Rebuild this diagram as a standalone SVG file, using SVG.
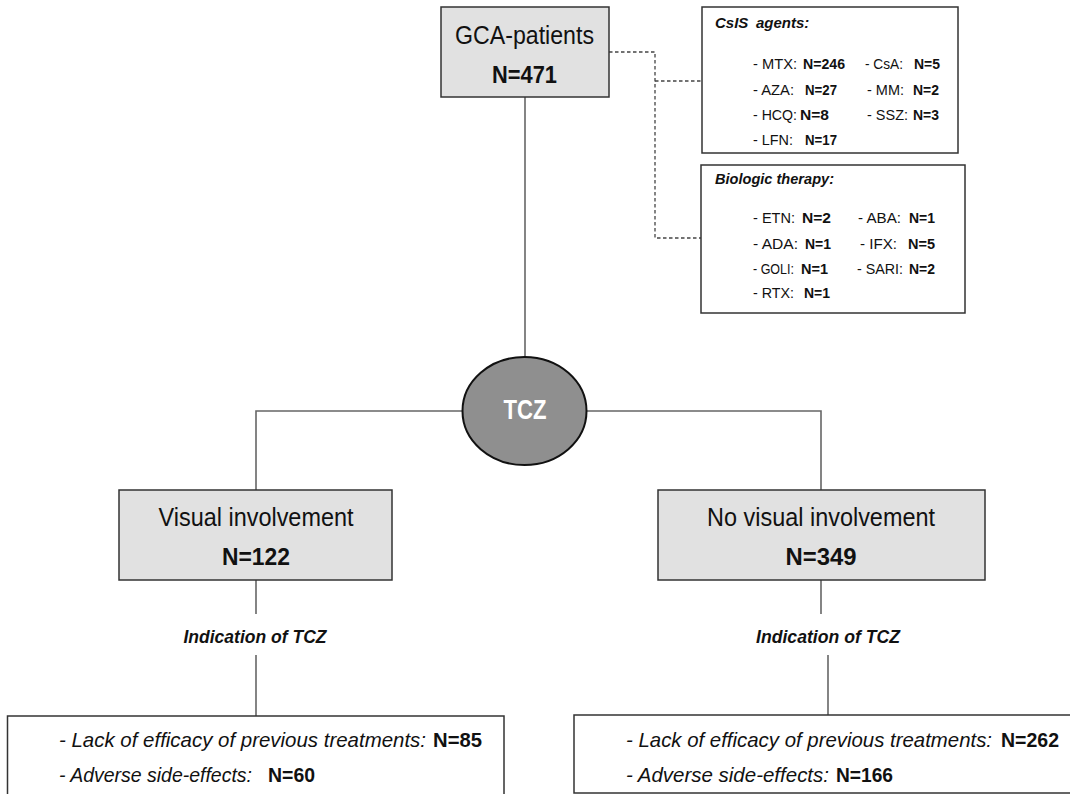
<svg xmlns="http://www.w3.org/2000/svg" width="1070" height="794" viewBox="0 0 1070 794">
<style>
.box{fill:#e1e1e1;stroke:#333;stroke-width:1.5}
.wbox{fill:#fff;stroke:#333;stroke-width:1.5}
.ln{fill:none;stroke:#666;stroke-width:1.6}
.dash{fill:none;stroke:#444;stroke-width:1.3;stroke-dasharray:3.5 2.5}
text{font-family:"Liberation Sans",Arial,sans-serif;fill:#111}
.big{font-size:26px}
.bn{font-size:24px;font-weight:bold}
.ttl{font-size:15px;font-weight:bold;font-style:italic}
.r{font-size:15.5px}
.b{font-size:15.5px;font-weight:bold}
.ind{font-size:18px;font-weight:bold;font-style:italic}
.it{font-size:21px;font-style:italic}
.bb{font-size:20px;font-weight:bold}
</style>
<rect width="1070" height="794" fill="#fff"/>
<g id="connectors">
<line class="ln" x1="525" y1="97" x2="525" y2="357"/>
<polyline class="ln" points="462,411 256,411 256,490"/>
<polyline class="ln" points="587,411 821,411 821,490"/>
<line class="ln" x1="256" y1="580" x2="256" y2="614"/>
<line class="ln" x1="256" y1="655" x2="256" y2="716"/>
<line class="ln" x1="821" y1="580" x2="821" y2="614"/>
<line class="ln" x1="828" y1="655" x2="828" y2="715"/>
<polyline class="dash" points="609,52 655,52 655,238 701,238"/>
<line class="dash" x1="655" y1="81" x2="702" y2="81"/>
</g>
<g id="gca">
<rect class="box" x="441" y="7" width="168" height="90"/>
<text class="big" x="524.5" y="44" text-anchor="middle" textLength="139" lengthAdjust="spacingAndGlyphs">GCA-patients</text>
<text class="bn" x="524.5" y="83" text-anchor="middle" textLength="65" lengthAdjust="spacingAndGlyphs">N=471</text>
</g>
<g id="csis">
<rect class="wbox" x="702" y="7" width="256" height="146"/>
<text class="ttl" x="715" y="28">CsIS</text>
<text class="ttl" x="756" y="28">agents:</text>
<text class="r" x="753" y="69" textLength="44" lengthAdjust="spacingAndGlyphs">- MTX:</text>
<text class="b" x="803" y="69" textLength="42" lengthAdjust="spacingAndGlyphs">N=246</text>
<text class="r" x="865" y="69" textLength="38" lengthAdjust="spacingAndGlyphs">- CsA:</text>
<text class="b" x="914" y="69" textLength="26" lengthAdjust="spacingAndGlyphs">N=5</text>
<text class="r" x="753" y="95" textLength="41" lengthAdjust="spacingAndGlyphs">- AZA:</text>
<text class="b" x="805" y="95" textLength="32" lengthAdjust="spacingAndGlyphs">N=27</text>
<text class="r" x="867" y="95" textLength="37" lengthAdjust="spacingAndGlyphs">- MM:</text>
<text class="b" x="913" y="95" textLength="26" lengthAdjust="spacingAndGlyphs">N=2</text>
<text class="r" x="753" y="120" textLength="44" lengthAdjust="spacingAndGlyphs">- HCQ:</text>
<text class="b" x="800" y="120" textLength="29" lengthAdjust="spacingAndGlyphs">N=8</text>
<text class="r" x="867" y="120" textLength="41" lengthAdjust="spacingAndGlyphs">- SSZ:</text>
<text class="b" x="913" y="120" textLength="26" lengthAdjust="spacingAndGlyphs">N=3</text>
<text class="r" x="753" y="145" textLength="40" lengthAdjust="spacingAndGlyphs">- LFN:</text>
<text class="b" x="805" y="145" textLength="32" lengthAdjust="spacingAndGlyphs">N=17</text>
</g>
<g id="biologic">
<rect class="wbox" x="701" y="165" width="264" height="148"/>
<text class="ttl" x="715" y="184" textLength="119" lengthAdjust="spacingAndGlyphs">Biologic therapy:</text>
<text class="r" x="753" y="223" textLength="42" lengthAdjust="spacingAndGlyphs">- ETN:</text>
<text class="b" x="802" y="223" textLength="29" lengthAdjust="spacingAndGlyphs">N=2</text>
<text class="r" x="858" y="223" textLength="43" lengthAdjust="spacingAndGlyphs">- ABA:</text>
<text class="b" x="909" y="223" textLength="26" lengthAdjust="spacingAndGlyphs">N=1</text>
<text class="r" x="753" y="249" textLength="45" lengthAdjust="spacingAndGlyphs">- ADA:</text>
<text class="b" x="805" y="249" textLength="26" lengthAdjust="spacingAndGlyphs">N=1</text>
<text class="r" x="860" y="249" textLength="37" lengthAdjust="spacingAndGlyphs">- IFX:</text>
<text class="b" x="908" y="249" textLength="27" lengthAdjust="spacingAndGlyphs">N=5</text>
<text class="r" x="753" y="274" textLength="41" lengthAdjust="spacingAndGlyphs">- GOLI:</text>
<text class="b" x="801" y="274" textLength="27" lengthAdjust="spacingAndGlyphs">N=1</text>
<text class="r" x="857" y="274" textLength="46" lengthAdjust="spacingAndGlyphs">- SARI:</text>
<text class="b" x="909" y="274" textLength="26" lengthAdjust="spacingAndGlyphs">N=2</text>
<text class="r" x="753" y="298" textLength="41" lengthAdjust="spacingAndGlyphs">- RTX:</text>
<text class="b" x="804" y="298" textLength="26" lengthAdjust="spacingAndGlyphs">N=1</text>
</g>
<g id="tcz">
<ellipse cx="524.5" cy="411" rx="62" ry="54" fill="#8f8f8f" stroke="#111" stroke-width="2"/>
<text x="525" y="419" text-anchor="middle" font-size="27" font-weight="bold" style="fill:#fff" textLength="43" lengthAdjust="spacingAndGlyphs">TCZ</text>
</g>
<g id="visual">
<rect class="box" x="119" y="490" width="273" height="90"/>
<text class="big" x="256" y="526" text-anchor="middle" textLength="195" lengthAdjust="spacingAndGlyphs">Visual involvement</text>
<text class="bn" x="256" y="565" text-anchor="middle" textLength="68" lengthAdjust="spacingAndGlyphs">N=122</text>
</g>
<g id="novisual">
<rect class="box" x="658" y="490" width="327" height="90"/>
<text class="big" x="821" y="526" text-anchor="middle" textLength="228" lengthAdjust="spacingAndGlyphs">No visual involvement</text>
<text class="bn" x="821" y="565" text-anchor="middle" textLength="71" lengthAdjust="spacingAndGlyphs">N=349</text>
</g>
<g id="ind-left">
<text class="ind" x="255" y="643" text-anchor="middle" textLength="143" lengthAdjust="spacingAndGlyphs">Indication of TCZ</text>
</g>
<g id="ind-right">
<text class="ind" x="828" y="643" text-anchor="middle" textLength="144" lengthAdjust="spacingAndGlyphs">Indication of TCZ</text>
</g>
<g id="reasons-left">
<rect class="wbox" x="7.5" y="716" width="496.5" height="90"/>
<text class="it" x="59" y="747" textLength="367" lengthAdjust="spacingAndGlyphs">- Lack of efficacy of previous treatments:</text>
<text class="bb" x="433" y="747" textLength="49" lengthAdjust="spacingAndGlyphs">N=85</text>
<text class="it" x="59" y="782" textLength="193" lengthAdjust="spacingAndGlyphs">- Adverse side-effects:</text>
<text class="bb" x="268" y="782" textLength="47" lengthAdjust="spacingAndGlyphs">N=60</text>
</g>
<g id="reasons-right">
<rect class="wbox" x="574" y="715" width="510" height="78"/>
<text class="it" x="626" y="747" textLength="366" lengthAdjust="spacingAndGlyphs">- Lack of efficacy of previous treatments:</text>
<text class="bb" x="1001" y="747" textLength="58" lengthAdjust="spacingAndGlyphs">N=262</text>
<text class="it" x="626" y="782" textLength="203" lengthAdjust="spacingAndGlyphs">- Adverse side-effects:</text>
<text class="bb" x="836" y="782" textLength="57" lengthAdjust="spacingAndGlyphs">N=166</text>
</g>
</svg>
